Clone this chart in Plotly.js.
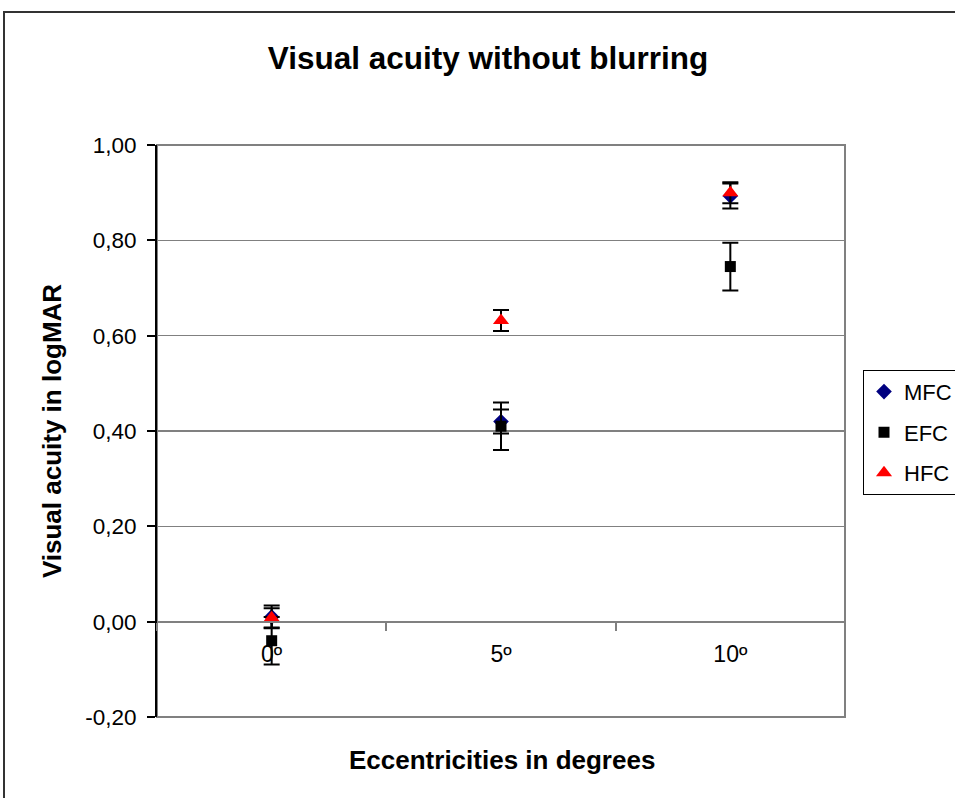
<!DOCTYPE html>
<html>
<head>
<meta charset="utf-8">
<script src="https://cdn.plot.ly/plotly-3.0.1.min.js"></script>
<style>html,body{margin:0;padding:0;background:#fff;}#chart{width:955px;height:798px;}</style>
</head>
<body>
<div id="chart"></div>
<script>
const categories = ["0º", "5º", "10º"];
const mfcValues = [0.010, 0.420, 0.893];
const mfcErrors = [0.024, 0.025, 0.026];
const efcValues = [-0.040, 0.410, 0.745];
const efcErrors = [0.050, 0.050, 0.050];
const hfcValues = [0.008, 0.632, 0.900];
const hfcErrors = [0.020, 0.022, 0.022];
const yTickValues = [-0.2, 0, 0.2, 0.4, 0.6, 0.8, 1.0];
const yTickLabels = ["-0,20", "0,00", "0,20", "0,40", "0,60", "0,80", "1,00"];

const FONT = "Liberation Sans, Arial, sans-serif";

function series(name, values, errors, symbol, color, size) {
  return {
    type: "scatter", mode: "markers", name: name, legendgroup: name,
    x: categories, y: values,
    marker: {symbol: symbol, color: color, size: size, line: {width: 0}},
    error_y: {type: "data", array: errors, visible: true, color: "#000000", thickness: 2, width: 8}
  };
}

const data = [
  series("MFC", mfcValues, mfcErrors, "diamond", "#000080", 12),
  series("EFC", efcValues, efcErrors, "square", "#000000", 11),
  series("HFC", hfcValues, hfcErrors, "triangle-up", "#ff0000", 14)
];

const layout = {
  width: 955, height: 798,
  margin: {l: 157, r: 110, t: 145, b: 81, autoexpand: false},
  paper_bgcolor: "#ffffff", plot_bgcolor: "#ffffff",
  font: {family: FONT, color: "#000000", size: 22},
  separators: ",.",
  title: {text: "<b>Visual acuity without blurring</b>", font: {size: 31.5, family: FONT, color: "#000000"},
          x: 0.511, xref: "container", xanchor: "center", y: 0.927, yref: "container", yanchor: "middle"},
  xaxis: {
    type: "category", range: [-0.5, 2.5], anchor: "free", position: 1/6,
    showline: true, linecolor: "#808080", linewidth: 2,
    showgrid: false, zeroline: false,
    ticks: "outside", tickson: "boundaries", ticklen: 8, tickwidth: 2, tickcolor: "#808080",
    ticklabelstandoff: 12,
    tickfont: {size: 23, family: FONT, color: "#000000"}
  },
  yaxis: {
    range: [-0.2, 1.0], tickmode: "array", tickvals: yTickValues, ticktext: yTickLabels,
    showline: true, linecolor: "#000000", linewidth: 2,
    showgrid: true, gridcolor: "#808080", gridwidth: 1.5, zeroline: false,
    ticks: "outside", ticklen: 8, tickwidth: 2, tickcolor: "#000000",
    ticklabelstandoff: 6,
    tickfont: {size: 22.5, family: FONT, color: "#000000"},
    title: {text: "<b>Visual acuity in logMAR</b>", font: {size: 26, family: FONT, color: "#000000"}, standoff: 16}
  },
  legend: {
    x: (863 - 157) / 688, xanchor: "left", y: 0.607, yanchor: "top",
    bgcolor: "#ffffff", bordercolor: "#000000", borderwidth: 1,
    font: {size: 22, family: FONT, color: "#000000"},
    traceorder: "grouped", tracegroupgap: 9
  },
  annotations: [{
    text: "<b>Eccentricities in degrees</b>", xref: "paper", yref: "paper",
    x: (502 - 157) / 688, y: (717 - 760) / 572, xanchor: "center", yanchor: "middle",
    showarrow: false, font: {size: 26, family: FONT, color: "#000000"}
  }],
  shapes: [
    {type: "rect", xref: "paper", yref: "paper", x0: 0, x1: 1, y0: 0, y1: 1,
     line: {color: "#808080", width: 2}, layer: "below"},
    {type: "rect", xref: "paper", yref: "paper",
     x0: (4 - 157) / 688, x1: (962 - 157) / 688, y0: (717 - 806) / 572, y1: (717 - 12) / 572,
     line: {color: "#333333", width: 2}, layer: "below"}
  ],
  showlegend: true
};

Plotly.newPlot("chart", data, layout, {displayModeBar: false, staticPlot: true});
</script>
</body>
</html>
